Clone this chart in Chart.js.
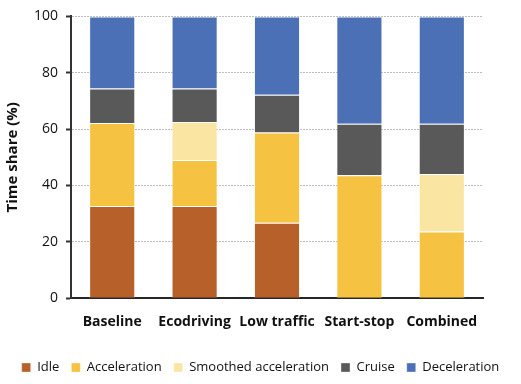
<!DOCTYPE html>
<html>
<head>
<meta charset="utf-8">
<script src="https://cdn.jsdelivr.net/npm/chart.js@4.4.0/dist/chart.umd.min.js"></script>
<style>
  html, body { margin: 0; padding: 0; background: #fff; }
  #wrap { width: 521px; height: 384px; }
</style>
</head>
<body>
<div id="wrap"><canvas id="chart"></canvas></div>
<script>
const scenarios = ['Baseline', 'Ecodriving', 'Low traffic', 'Start-stop', 'Combined'];
const idle = [32.7, 32.7, 26.8, 0, 0];
const acceleration = [29.5, 16.3, 32.0, 43.6, 23.7];
const smoothedAcceleration = [0, 13.5, 0, 0, 20.4];
const cruise = [12.2, 11.9, 13.4, 18.3, 17.8];
const deceleration = [25.6, 25.6, 27.8, 38.1, 38.1];
const yTicks = [0, 20, 40, 60, 80, 100];

const fontFamily = "'Open Sans', 'Liberation Sans', sans-serif";

function series(label, data, color) {
    return {
        label: label,
        data: data,
        backgroundColor: color,
        borderColor: 'rgba(255,255,255,0.35)',
        borderWidth: 1,
        barPercentage: 0.56,
        categoryPercentage: 1.0
    };
}

new Chart(document.getElementById('chart'), {
    type: 'bar',
    data: {
        labels: scenarios,
        datasets: [
            series('Idle', idle, '#B7602A'),
            series('Acceleration', acceleration, '#F5C242'),
            series('Smoothed acceleration', smoothedAcceleration, '#FBE5A2'),
            series('Cruise', cruise, '#595959'),
            series('Deceleration', deceleration, '#4C70B6')
        ]
    },
    options: {
        responsive: true,
        maintainAspectRatio: false,
        animation: false,
        layout: { padding: { left: 4, right: 4, top: 4, bottom: 0 } },
        scales: {
            x: {
                stacked: true,
                grid: { display: false, drawTicks: false },
                border: { display: true, color: '#262626', width: 2 },
                ticks: {
                    color: '#111',
                    padding: 15,
                    font: { family: fontFamily, size: 14, weight: 'bold' }
                },
                // a bit more room between the labels and the legend
                afterFit: axis => { axis.height += 4; }
            },
            y: {
                stacked: true,
                min: 0,
                max: 100,
                afterBuildTicks: axis => { axis.ticks = yTicks.map(v => ({ value: v })); },
                grid: {
                    color: '#bdbdbd',
                    tickColor: '#333',
                    tickLength: 5,
                    tickWidth: 2
                },
                border: { display: true, color: '#333', width: 2, dash: [2, 1] },
                ticks: {
                    color: '#111',
                    padding: 8,
                    font: { family: fontFamily, size: 14 }
                },
                title: {
                    display: true,
                    text: 'Time share (%)',
                    color: '#111',
                    padding: { top: 0, bottom: 4 },
                    font: { family: fontFamily, size: 15, weight: 'bold' }
                }
            },
            // empty right axis, keeps the plot narrower than the legend
            yRight: {
                position: 'right',
                display: true,
                grid: { display: false, drawTicks: false },
                border: { display: false },
                ticks: { display: false },
                afterFit: axis => { axis.width = 34; }
            }
        },
        plugins: {
            legend: {
                position: 'bottom',
                labels: {
                    color: '#111',
                    boxWidth: 9,
                    boxHeight: 9,
                    padding: 12,
                    font: { family: fontFamily, size: 13 }
                }
            },
            tooltip: { enabled: false }
        }
    }
});
</script>
</body>
</html>
